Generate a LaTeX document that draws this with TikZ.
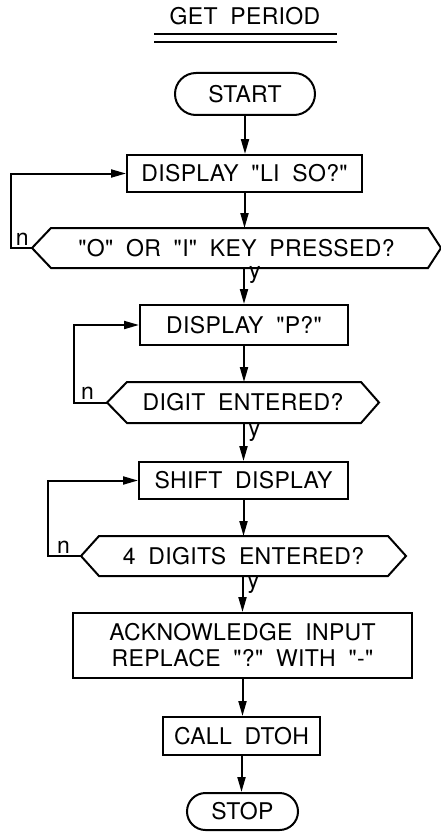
\documentclass[tikz,border=0pt]{standalone}
\usepackage{fontspec}
\setmainfont{TeX Gyre Heros}[Ligatures=TeXOff,LetterSpace=1.5,WordSpace=1.9]
\usetikzlibrary{arrows.meta,shapes.misc}
\begin{document}
\begin{tikzpicture}[x=1pt,y=-1pt,
  line width=2pt,
  every node/.style={font=\fontsize{23}{26}\selectfont, inner sep=0pt},
  box/.style={draw, rectangle},
  term/.style={draw, rounded rectangle},
  dec/.style={rectangle},
  lbl/.style={font=\fontsize{23}{24}\selectfont},
  arr/.style={-{Triangle[length=15pt,width=8pt]}}]
\useasboundingbox (0,0) rectangle (441,832);
\fill[white] (0,0) rectangle (441,832);

% title
\node (title) at (245,16) {GET PERIOD};
\coordinate (u1a) at (154,34); \coordinate (u1b) at (337,34);
\coordinate (u2a) at (154,42); \coordinate (u2b) at (337,42);
\draw[line width=1.6pt] (u1a) -- (u1b);
\draw[line width=2pt] (u2a) -- (u2b);

% nodes
\node[term, minimum width=140pt, minimum height=42pt] (start) at (245,94) {START};
\node[box, minimum width=235pt, minimum height=37pt] (b1) at (244.5,173.5) {DISPLAY "LI SO?"};
\node[dec, minimum width=407pt, minimum height=38pt] (d1) at (236.5,248) {"O" OR "I" KEY PRESSED?};
\node[box, minimum width=208pt, minimum height=40pt] (b2) at (244,325) {DISPLAY "P?"};
\node[dec, minimum width=270pt, minimum height=39pt] (d2) at (243,402.5) {DIGIT ENTERED?};
\node[box, minimum width=209pt, minimum height=37pt] (b3) at (243.5,480.5) {SHIFT DISPLAY};
\node[dec, minimum width=323pt, minimum height=38pt] (d3) at (243.5,556) {4 DIGITS ENTERED?};
\node[box, minimum width=339pt, minimum height=65pt, align=center] (b4) at (242.5,645.5) {ACKNOWLEDGE INPUT\\REPLACE "?" WITH "-"};
\node[box, minimum width=157pt, minimum height=38pt] (b5) at (241.5,736) {CALL DTOH};
\node[term, minimum width=111pt, minimum height=37pt] (stop) at (242.5,811.5) {STOP};

% hexagon outlines
\draw (d1.west) -- ([xshift=19pt]d1.north west) -- ([xshift=-13pt]d1.north east) -- (d1.east)
      -- ([xshift=-13pt]d1.south east) -- ([xshift=19pt]d1.south west) -- cycle;
\draw (d2.west) -- ([xshift=20pt]d2.north west) -- ([xshift=-18pt]d2.north east) -- (d2.east)
      -- ([xshift=-18pt]d2.south east) -- ([xshift=20pt]d2.south west) -- cycle;
\draw (d3.west) -- ([xshift=18pt]d3.north west) -- ([xshift=-18pt]d3.north east) -- (d3.east)
      -- ([xshift=-18pt]d3.south east) -- ([xshift=18pt]d3.south west) -- cycle;

% main flow
\draw[arr] (start.south) -- (start.south |- b1.north);
\draw[arr] (b1.south) -- (b1.south |- d1.north);
\draw[arr] (b2.north |- d1.south) -- (b2.north) node[lbl, pos=0.2, right=4pt] {y};
\draw[arr] (b2.south) -- (b2.south |- d2.north);
\draw[arr] (b3.north |- d2.south) -- (b3.north) node[lbl, pos=0.25, right=4pt] {y};
\draw[arr] (b3.south) -- (b3.south |- d3.north);
\draw[arr] (b4.north |- d3.south) -- (b4.north) node[lbl, pos=0.25, right=4pt] {y};
\draw[arr] (b4.south) -- (b4.south |- b5.north);
\draw[arr] (b5.south) -- (b5.south |- stop.north);

% loops
\coordinate (l1) at (11,248);
\draw[arr] (d1.west) -- (l1) |- (b1.west);
\node[lbl, anchor=south west] (n1) at (15,246) {n};
\coordinate (l2) at (74,402.5);
\draw[arr] (d2.west) -- (l2) |- (b2.west);
\node[lbl, anchor=south west] (n2) at (80,400) {n};
\coordinate (l3) at (48,556);
\draw[arr] (d3.west) -- (l3) |- (b3.west);
\node[lbl, anchor=south west] (n3) at (56,554) {n};
\end{tikzpicture}
\end{document}
